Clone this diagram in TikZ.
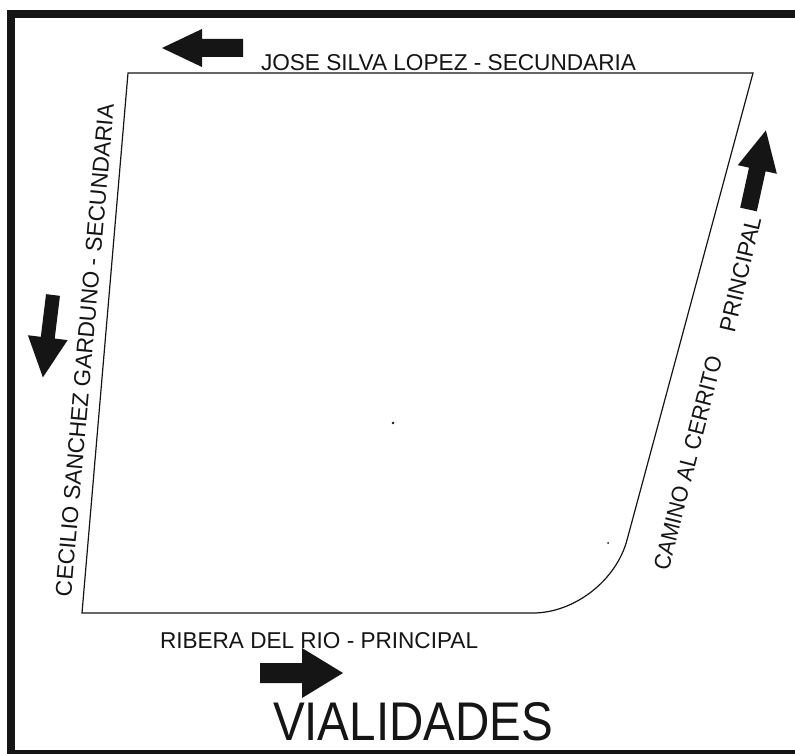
\documentclass[tikz,border=0pt]{standalone}
\usepackage{fontspec}
\usepackage{graphicx}
\newfontfamily\cadfont{Liberation Sans}
\newcommand{\cadtext}[3]{\resizebox{#1pt}{#2pt}{\cadfont #3}}
\definecolor{ink}{HTML}{151515}
\tikzset{
  roadline/.style={draw=ink, line width=1.2pt, line join=miter},
  framebar/.style={fill=ink, draw=none},
  bigarrow/.style={fill=ink, draw=none},
  label/.style={inner sep=0pt, outer sep=0pt, text=ink},
}
\begin{document}
\begin{tikzpicture}[x=1pt, y=-1pt]
\useasboundingbox (0,0) rectangle (795,754);
\fill[white] (0,0) rectangle (795,754);
% frame
\fill[framebar] (7,10) rectangle (15,754);
\fill[framebar] (7,10) rectangle (795,18);
\fill[framebar] (7,750) rectangle (795,754);
% block outline
\coordinate (tl) at (128,73);
\coordinate (tr) at (753,73);
\coordinate (cr) at (627,540);
\coordinate (c1) at (616,581);
\coordinate (c2) at (574,613);
\coordinate (cb) at (533,613);
\coordinate (bl) at (82,613);
\draw[roadline] (tl) -- (tr) -- (cr) .. controls (c1) and (c2) .. (cb) -- (bl) -- cycle;
% dots
\fill[ink] (393,423) circle (1.3);
\fill[ink] (608,543) circle (1);
% arrows (local: tail at origin, pointing +x)
\fill[bigarrow, shift={(243,48)}, rotate=180]
  (0,-9) -- (41,-9) -- (41,-19) -- (81,0) -- (41,19) -- (41,9) -- (0,9) -- cycle;
\fill[bigarrow, shift={(260,673)}, rotate=0]
  (0,-10) -- (42,-10) -- (42,-25) -- (83,0) -- (42,25) -- (42,10) -- (0,10) -- cycle;
\fill[bigarrow, shift={(53,295)}, rotate=-97]
  (0,-7) -- (43,-7) -- (43,-20) -- (83,0) -- (43,20) -- (43,7) -- (0,7) -- cycle;
\fill[bigarrow, shift={(748.5,209.5)}, rotate=77.6]
  (0,-8.5) -- (41,-8.5) -- (41,-20) -- (81,0) -- (41,20) -- (41,8.5) -- (0,8.5) -- cycle;
% labels
\node[label, anchor=base west] (top) at (261,71) {\cadtext{375}{16}{JOSE SILVA LOPEZ - SECUNDARIA}};
\node[label, anchor=base west, rotate=85] (left) at (71,597) {\cadtext{494}{16}{CECILIO SANCHEZ GARDUNO - SECUNDARIA}};
\node[label, anchor=base west, rotate=75.7] (right1) at (668.5,571) {\cadtext{219}{16}{CAMINO AL CERRITO}};
\node[label, anchor=base west, rotate=76.7] (right2) at (734.5,333) {\cadtext{117}{16}{PRINCIPAL}};
\node[label, anchor=base west] (bottom) at (160,648) {\cadtext{318}{16}{RIBERA DEL RIO - PRINCIPAL}};
\node[label, anchor=base west] (title) at (273,740) {\cadtext{280}{38}{VIALIDADES}};
\end{tikzpicture}
\end{document}
